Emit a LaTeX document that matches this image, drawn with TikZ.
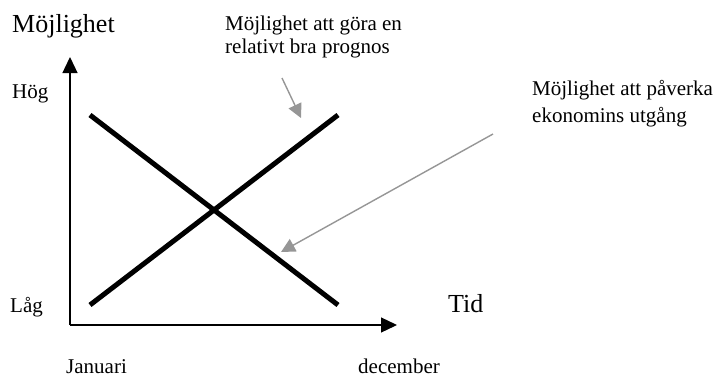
\documentclass[tikz,border=0pt]{standalone}
\usepackage{fontspec}
\setmainfont{Liberation Serif}
\usetikzlibrary{arrows.meta}
\definecolor{gry}{RGB}{150,150,150}

\begin{document}
\begin{tikzpicture}[x=1pt,y=-1pt,
	axl/.style={line width=1.3pt,-{Triangle[length=16pt,width=15pt]}},
	tjock/.style={line width=5pt},
	grapil/.style={draw=gry,line width=1.4pt,-{Triangle[length=14pt,width=14pt]}},
	liten/.style={inner sep=0pt,anchor=base west,align=left,font=\fontsize{21}{23}\selectfont},
	stor/.style={inner sep=0pt,anchor=base west,font=\fontsize{26}{30}\selectfont}]
\useasboundingbox (0,0) rectangle (716,376);
\coordinate (o) at (70,325);
\coordinate (ytop) at (70,57);
\coordinate (xtop) at (397,325);
\coordinate (a1) at (90,305);
\coordinate (a2) at (338,115);
\coordinate (b1) at (90,115);
\coordinate (b2) at (338,305);
\node [stor] (mojl) at (12,32) {Möjlighet};
\node [liten] (hog) at (12,98) {Hög};
\node [liten] (lag) at (10,312) {Låg};
\node [stor] (tid) at (448,312) {Tid};
\node [liten] (jan) at (66,373) {Januari};
\node [liten] (dec) at (358,373) {december};
% multi-line nodes sit on their last line
\node [liten] (prog) at (225,53) {Möjlighet att göra en\\relativt bra prognos};
\node [liten,font=\fontsize{21}{27}\selectfont] (pav) at (532,122) {Möjlighet att påverka\\ekonomins utgång};
\coordinate (p1) at (282,78);
\coordinate (p2) at (301,118);
\coordinate (q1) at (493,134);
\coordinate (q2) at (281,252);
\draw [axl] (o)--(ytop);
\draw [axl] (o)--(xtop);
\draw [tjock] (a1)--(a2);
\draw [tjock] (b1)--(b2);
\draw [grapil] (p1)--(p2);
\draw [grapil] (q1)--(q2);
\end{tikzpicture}
\end{document}
